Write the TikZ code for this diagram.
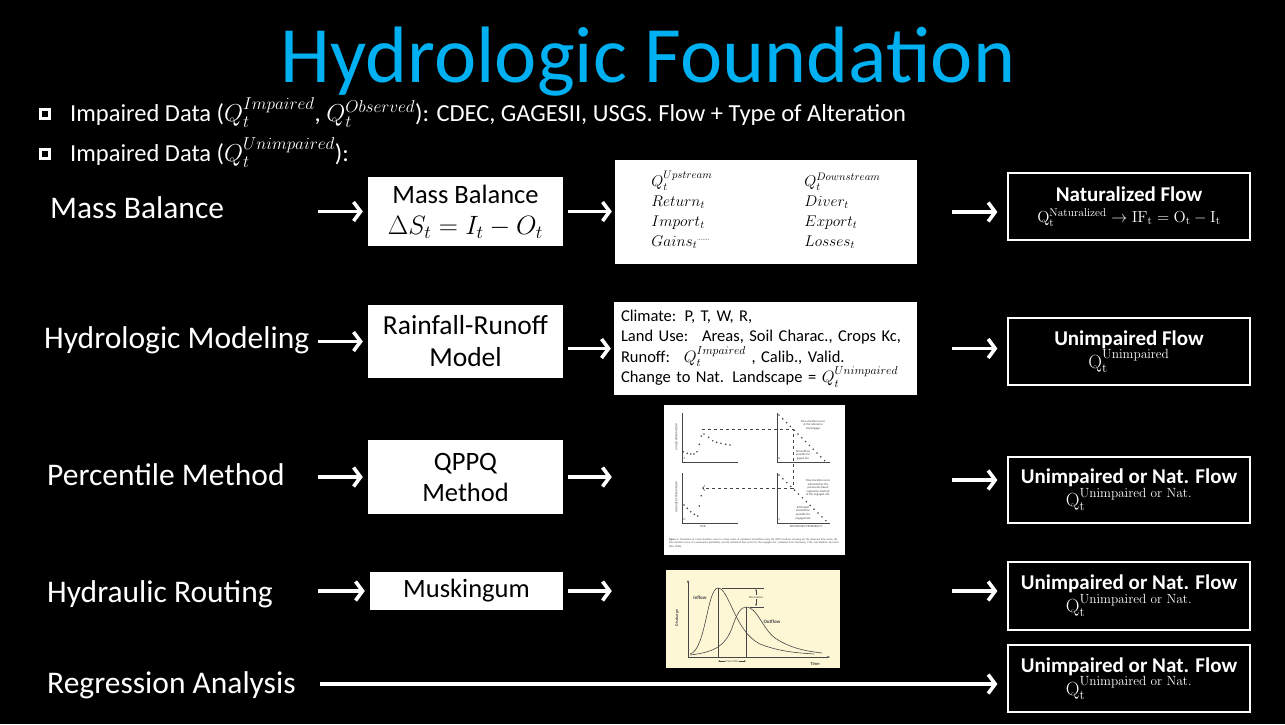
\RequirePackage{fix-cm}
\documentclass[tikz,border=0pt]{standalone}
\usepackage{amsmath}
\usepackage[no-math]{fontspec}
\setmainfont{Carlito}
\usetikzlibrary{arrows,arrows.meta,positioning}

\definecolor{titleblue}{RGB}{0,176,240}
\definecolor{figcream}{RGB}{253,247,214}
\definecolor{figgray}{RGB}{70,70,70}
\newcommand{\fsz}[2]{\fontsize{#1}{#2}\selectfont}

\begin{document}
\begin{tikzpicture}[x=1pt,y=-1pt,
  flow/.style={draw=white,line width=3.8pt,-{Straight Barb[length=7pt,width=19pt,line width=3.6pt]}},
  stagebox/.style={fill=white,text=black,inner sep=0pt,align=center,font=\fsz{26.5}{31}},
  resultbox/.style={draw=white,line width=1.2pt,fill=black,text=white,minimum width=242pt,inner sep=0pt,align=center,font=\fsz{19}{21}},
  rowlabel/.style={text=white,anchor=base west,inner sep=0pt,font=\fsz{31.5}{36}},
  bulletline/.style={text=white,anchor=base west,inner sep=0pt,font=\fsz{24.5}{28}},
  bulletmark/.style={draw=white,line width=3.2pt,fill=black,minimum size=9pt,inner sep=0pt},
  figtext/.style={inner sep=0pt,text=figgray,align=center,font=\fsz{3}{3.6}}]

% page
\fill[black] (0,0) rectangle (1285,724);
\useasboundingbox (0,0) rectangle (1285,724);

\node[text=titleblue,anchor=base,inner sep=0pt,font=\fsz{80}{90}] (title) at (648,82) {Hydrologic Foundation};

% bullets
\node[bulletmark] (b1) at (45,114) {};
\node[bulletmark] (b2) at (45,154) {};
\node[bulletline] (data1) at (70,121) {Impaired Data ($Q_t^{Impaired}$, $Q_t^{Observed}$): CDEC, GAGESII, USGS. Flow + Type of Alteration};
\node[bulletline] (data2) at (70,161) {Impaired Data ($Q_t^{Unimpaired}$):};

% row labels
\node[rowlabel] (lab1) at (50,218) {Mass Balance};
\node[rowlabel] (lab2) at (44,348) {Hydrologic Modeling};
\node[rowlabel] (lab3) at (47,485) {Percentile Method};
\node[rowlabel] (lab4) at (47,602) {Hydraulic Routing};
\node[rowlabel] (lab5) at (47,693) {Regression Analysis};

% method boxes
\node[stagebox,minimum width=195pt,minimum height=69pt] (mass) at (465.5,211.5) {Mass Balance\\ $\Delta S_t = I_t - O_t$};
\node[stagebox,minimum width=195pt,minimum height=73pt,font=\fsz{27.5}{32}] (rrbox) at (465.5,341.5) {Rainfall-Runoff\\ Model};
\node[stagebox,minimum width=195pt,minimum height=74pt] (qppq) at (465.5,477) {QPPQ\\ Method};
\node[stagebox,minimum width=193pt,minimum height=38pt] (musk) at (466.5,591) {Muskingum};

% middle column
\node[stagebox,minimum width=302pt,minimum height=104pt,font=\fsz{15.5}{20}] (terms) at (766,212) {%
  \begin{tabular}{@{}p{153pt}@{}l@{}}
  $Q_t^{Upstream}$ & $Q_t^{Downstream}$\\
  $Return_t$ & $Diver_t$\\
  $Import_t$ & $Export_t$\\
  $Gains_t$\raisebox{3pt}{\fsz{6}{6}\textasciigrave\textasciigrave\textasciigrave\textasciigrave\textasciigrave\textasciigrave\textasciigrave} & $Losses_t$
  \end{tabular}};
\node[stagebox,minimum width=303pt,minimum height=93pt,text width=289pt,align=left,font=\fsz{16.5}{20.5}] (model) at (765.5,348.5) {Climate: P, T, W, R,\\
  Land Use:~ Areas, Soil Charac., Crops Kc,\\
  Runoff:~ $Q_t^{Impaired}$~, Calib., Valid.\\
  Change to Nat. Landscape = $Q_t^{Unimpaired}$};
\node[fill=white,minimum width=181pt,minimum height=150pt,inner sep=0pt] (qppqfig) at (754.5,480) {};
\node[fill=figcream,minimum width=174pt,minimum height=98pt,inner sep=0pt] (muskfig) at (753,619) {};

% QPPQ sketch
\begin{scope}[figgray,line width=0.6pt]
\draw (682,413) -- (682,462) -- (738,462);
\draw (777,413) -- (777,462) -- (830,462);
\draw (682,473) -- (682,523) -- (738,523);
\draw (777,473) -- (777,523) -- (830,523);
\foreach \px/\py in {683.3/451.7,687.3/453.3,690.7/454,694/454,697/451.7,699.3/444.3,701.3/436,704/434,708.7/437.3,712.7/440.7,716.7/442.3,721/443.3,725.7/444.3,730/445}
  \fill (\px,\py) circle (0.9pt);
\foreach \k in {0,...,12}
  \fill (779+3.8*\k,415+3.8*\k) circle (0.9pt);
\foreach \k in {0,...,12}
  \fill (779+3.9*\k,475+3.8*\k) circle (0.9pt);
\foreach \px/\py in {684/505,687.3/508.3,690.7/511.7,694.3/514.3,697.7/516,699.3/506,701.3/495.7}
  \fill (\px,\py) circle (0.9pt);
\draw[dashed,line width=0.5pt,->] (702,429.3) -- (793.3,429.3) -- (793.3,488) -- (702,488);
\end{scope}
\node[figtext] (fa) at (684.5,459) {A};
\node[figtext] (fb) at (779.5,459) {B};
\node[figtext] (fc) at (779.5,520) {C};
\node[figtext] (fd) at (684.5,520) {D};
\node[figtext,rotate=90] (fyga) at (676.5,437) {GAGED STREAMFLOW};
\node[figtext,rotate=90] (fyun) at (676.5,497) {UNGAGED STREAMFLOW};
\node[figtext] (ftime) at (703,527) {TIME};
\node[figtext] (fexc) at (806,527) {EXCEEDANCE PROBABILITY};
\node[figtext] (fref) at (813,425) {Flow-duration curve\\ at the reference\\ streamgage};
\node[figtext] (fgag) at (803,455) {Streamflow\\ quantile for\\ gaged site};
\node[figtext] (fest) at (818,488) {Flow-duration curve\\ estimated by the\\ parameter-based\\ regression method\\ at the ungaged site.};
\node[figtext] (fung) at (803,513) {Estimated\\ streamflow\\ quantile for\\ ungaged site};
\node[figtext,text width=172pt,align=left,font=\fsz{2.6}{3.4}] (fcap) at (755,543) {\textbf{Figure 3.} Translation of a flow duration curve to a time series of estimated streamflow using the QPPQ method, showing (A) the observed time series, (B) flow duration curve, (C) exceedance probability, and (D) estimated time series for the ungaged site. (Adapted from Fennessey, 1994, and Waldron and Archfield, 2006).};

% hydrograph sketch
\begin{scope}[figgray,line width=0.6pt]
\draw[-{Stealth[length=3pt]}] (688,657) -- (688,580);
\draw[-{Stealth[length=3pt]}] (688,657) -- (830,657);
\draw (690,654) .. controls (706,650) and (707,588) .. (718,588) .. controls (729,588) and (735,632) .. (760,644) .. controls (780,652) and (800,653) .. (814,654);
\draw (690,655) .. controls (715,652) and (725,646) .. (732,628) .. controls (737,613) and (741,607) .. (746,607) .. controls (757,607) and (762,628) .. (775,638) .. controls (790,648) and (805,651) .. (822,653);
\draw[line width=0.4pt] (718,588) -- (718,657);
\draw[line width=0.4pt] (746,607) -- (746,657);
\draw[line width=0.4pt] (722,588) -- (764,588);
\draw[line width=0.4pt] (750,607) -- (764,607);
\draw[line width=0.4pt,{Stealth[length=2pt]}-{Stealth[length=2pt]}] (756,589) -- (756,606);
\draw[line width=0.4pt,{Stealth[length=2pt]}-{Stealth[length=2pt]}] (718,661) -- (746,661);
\end{scope}
\node[figtext,fill=figcream,inner sep=0.5pt] (fatt) at (756,597) {Attenuation};
\node[figtext,fill=figcream,inner sep=0.5pt] (ftrav) at (732,661) {Travel time};
\node[figtext,font=\fsz{5}{6}\bfseries] (finf) at (700,598) {Inflow};
\node[figtext,font=\fsz{5}{6}\bfseries] (fout) at (772,622) {Outflow};
\node[figtext,font=\fsz{4}{5}\bfseries,rotate=90] (fdis) at (677,618) {Discharge};
\node[figtext,font=\fsz{4.5}{5}\bfseries] (ftm) at (815,664) {Time};

% result boxes
\node[resultbox,minimum height=67pt] (res1) at (1129,206.5) {{\fsz{21}{24}\bfseries Naturalized Flow}\\ {\fsz{16}{19}$\mathrm{Q_t^{Naturalized}} \rightarrow \mathrm{IF_t} = \mathrm{O_t} - \mathrm{I_t}$}};
\node[resultbox,minimum height=67pt] (res2) at (1129,351.5) {{\fsz{21}{24}\bfseries Unimpaired Flow}\\ $\mathrm{Q_t^{Unimpaired}}$};
\node[resultbox,minimum height=66pt] (res3) at (1129,490) {{\fsz{21}{24}\bfseries Unimpaired or Nat. Flow}\\ $\mathrm{Q_t^{Unimpaired\ or\ Nat.}}$};
\node[resultbox,minimum height=68pt] (res4) at (1129,596) {{\fsz{21}{24}\bfseries Unimpaired or Nat. Flow}\\ $\mathrm{Q_t^{Unimpaired\ or\ Nat.}}$};
\node[resultbox,minimum height=67pt] (res5) at (1129,678.5) {{\fsz{21}{24}\bfseries Unimpaired or Nat. Flow}\\ $\mathrm{Q_t^{Unimpaired\ or\ Nat.}}$};

% arrows
\coordinate (s1) at (318,211.5);
\coordinate (s2) at (318,341.5);
\coordinate (s3) at (318,477);
\coordinate (s4) at (318,591);
\coordinate (s5) at (320,684);
\draw[flow,shorten >=5pt] (s1) -- (mass.west);
\draw[flow,shorten <=5pt,shorten >=3pt] (mass.east) -- (mass.east -| terms.west);
\draw[flow,shorten <=35pt,shorten >=10pt] (terms.east) -- (terms.east -| res1.west);
\draw[flow,shorten >=5pt] (s2) -- (rrbox.west);
\draw[flow,shorten <=5pt,shorten >=3pt] (model.west -| rrbox.east) -- (model.west);
\draw[flow,shorten <=35pt,shorten >=10pt] (model.east) -- (model.east -| res2.west);
\draw[flow,shorten >=5pt] (s3) -- (qppq.west);
\draw[flow,shorten <=5pt,shorten >=52pt] (qppq.east) -- (qppq.east -| qppqfig.west);
\draw[flow,shorten <=107pt,shorten >=10pt] (qppqfig.east) -- (qppqfig.east -| res3.west);
\draw[flow,shorten >=5pt] (s4) -- (musk.west);
\draw[flow,shorten <=5pt,shorten >=54pt] (musk.east) -- (musk.east -| muskfig.west);
\draw[flow,shorten <=112pt,shorten >=10pt] (musk.east -| muskfig.east) -- (musk.east -| res4.west);
\draw[flow,shorten >=10pt] (s5) -- (s5 -| res5.west);

\end{tikzpicture}
\end{document}
